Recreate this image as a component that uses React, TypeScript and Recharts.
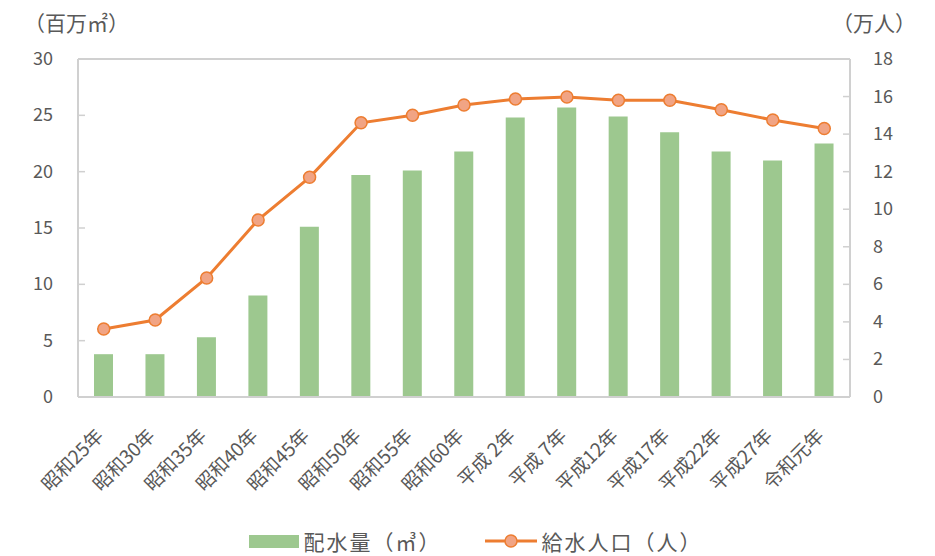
import React from 'react';
import { ComposedChart, Bar, Line, XAxis, YAxis, ReferenceLine, Legend } from 'recharts';

const categories = ['昭和25年', '昭和30年', '昭和35年', '昭和40年', '昭和45年', '昭和50年', '昭和55年', '昭和60年', '平成 2年', '平成 7年', '平成12年', '平成17年', '平成22年', '平成27年', '令和元年'];
const waterVolume = [3.8, 3.8, 5.3, 9.0, 15.1, 19.7, 20.1, 21.8, 24.8, 25.7, 24.9, 23.5, 21.8, 21.0, 22.5];
const population = [3.62, 4.1, 6.34, 9.43, 11.7, 14.6, 15.0, 15.55, 15.87, 15.98, 15.8, 15.8, 15.3, 14.75, 14.3];
const leftTicks = [0, 5, 10, 15, 20, 25, 30];
const rightTicks = [0, 2, 4, 6, 8, 10, 12, 14, 16, 18];

const data = categories.map((c, i) => ({ name: c, volume: waterVolume[i], pop: population[i] }));

const FONT = '"Noto Sans CJK JP", "Noto Sans", sans-serif';
const TEXT = '#595959';
const AXIS = '#d0d0d0';
const GREEN = '#9DC88F';
const ORANGE = '#ED7D31';

const LeftTick = (props: any) => {
  const { x, y, payload } = props;
  return (
    <g>
      {payload.value !== 0 && payload.value !== 30 && (
        <line x1={x + 25} x2={x + 32} y1={y} y2={y} stroke={AXIS} strokeWidth={1.5} />
      )}
      <text x={x} y={y} dy={6} textAnchor="end" fill={TEXT} fontSize={18} fontFamily={FONT}>{payload.value}</text>
    </g>
  );
};

const RightTick = (props: any) => {
  const { x, y, payload } = props;
  return (
    <g>
      {payload.value !== 0 && payload.value !== 18 && (
        <line x1={x - 23} x2={x - 30} y1={y} y2={y} stroke={AXIS} strokeWidth={1.5} />
      )}
      <text x={x} y={y} dy={6} textAnchor="start" fill={TEXT} fontSize={18} fontFamily={FONT}>{payload.value}</text>
    </g>
  );
};

const XTick = (props: any) => {
  const { x, y, payload } = props;
  const ax = x + 1;
  const ay = y + 32;
  return (
    <text x={ax} y={ay} transform={`rotate(-45, ${ax}, ${ay})`} textAnchor="end" fill={TEXT} fontSize={19} fontFamily={FONT}>
      {payload.value}
    </text>
  );
};

const LegendContent = () => (
  <div style={{ display: 'flex', justifyContent: 'center', alignItems: 'center', height: 40, marginTop: 10, paddingLeft: 16, fontFamily: FONT, fontSize: 21, letterSpacing: 2, color: TEXT }}>
    <div style={{ display: 'flex', alignItems: 'center', marginRight: 43 }}>
      <div style={{ width: 50, height: 13, background: GREEN, marginRight: 5 }} />
      <span>配水量（㎥）</span>
    </div>
    <div style={{ display: 'flex', alignItems: 'center' }}>
      <svg width={52} height={16} style={{ marginRight: 5 }}>
        <line x1={0} x2={52} y1={8} y2={8} stroke={ORANGE} strokeWidth={3} />
        <circle cx={26} cy={8} r={6} fill="#F1A484" stroke={ORANGE} strokeWidth={1.5} />
      </svg>
      <span>給水人口（人）</span>
    </div>
  </div>
);

export default function App() {
  return (
    <div style={{ position: 'absolute', left: 0, top: 0, width: 935, height: 556, background: '#fff' }}>
      <ComposedChart width={935} height={556} data={data} margin={{ top: 59, right: 0, left: 0, bottom: 0 }}>
        <XAxis dataKey="name" height={114} interval={0} tick={<XTick />} tickLine={false} axisLine={{ stroke: AXIS, strokeWidth: 2 }} />
        <YAxis yAxisId="left" orientation="left" width={78} domain={[0, 30]} ticks={leftTicks} tickSize={0} tickMargin={25} tick={<LeftTick />} tickLine={false} axisLine={{ stroke: AXIS, strokeWidth: 2 }} />
        <YAxis yAxisId="right" orientation="right" width={85} domain={[0, 18]} ticks={rightTicks} tickSize={0} tickMargin={23} tick={<RightTick />} tickLine={false} axisLine={{ stroke: AXIS, strokeWidth: 2 }} />
        <ReferenceLine yAxisId="left" y={30} stroke={AXIS} strokeWidth={2} />
        <Bar yAxisId="left" dataKey="volume" fill={GREEN} barSize={19} isAnimationActive={false} />
        <Line yAxisId="right" dataKey="pop" stroke={ORANGE} strokeWidth={3} dot={{ r: 6, fill: '#F1A484', stroke: ORANGE, strokeWidth: 1.5 }} activeDot={false} isAnimationActive={false} />
        <Legend verticalAlign="bottom" height={45} content={<LegendContent />} />
      </ComposedChart>
      <div style={{ position: 'absolute', left: 24, top: 7, fontFamily: FONT, fontSize: 21, color: TEXT }}>（百万㎡）</div>
      <div style={{ position: 'absolute', left: 832, top: 7, fontFamily: FONT, fontSize: 21, color: TEXT }}>（万人）</div>
    </div>
  );
}
